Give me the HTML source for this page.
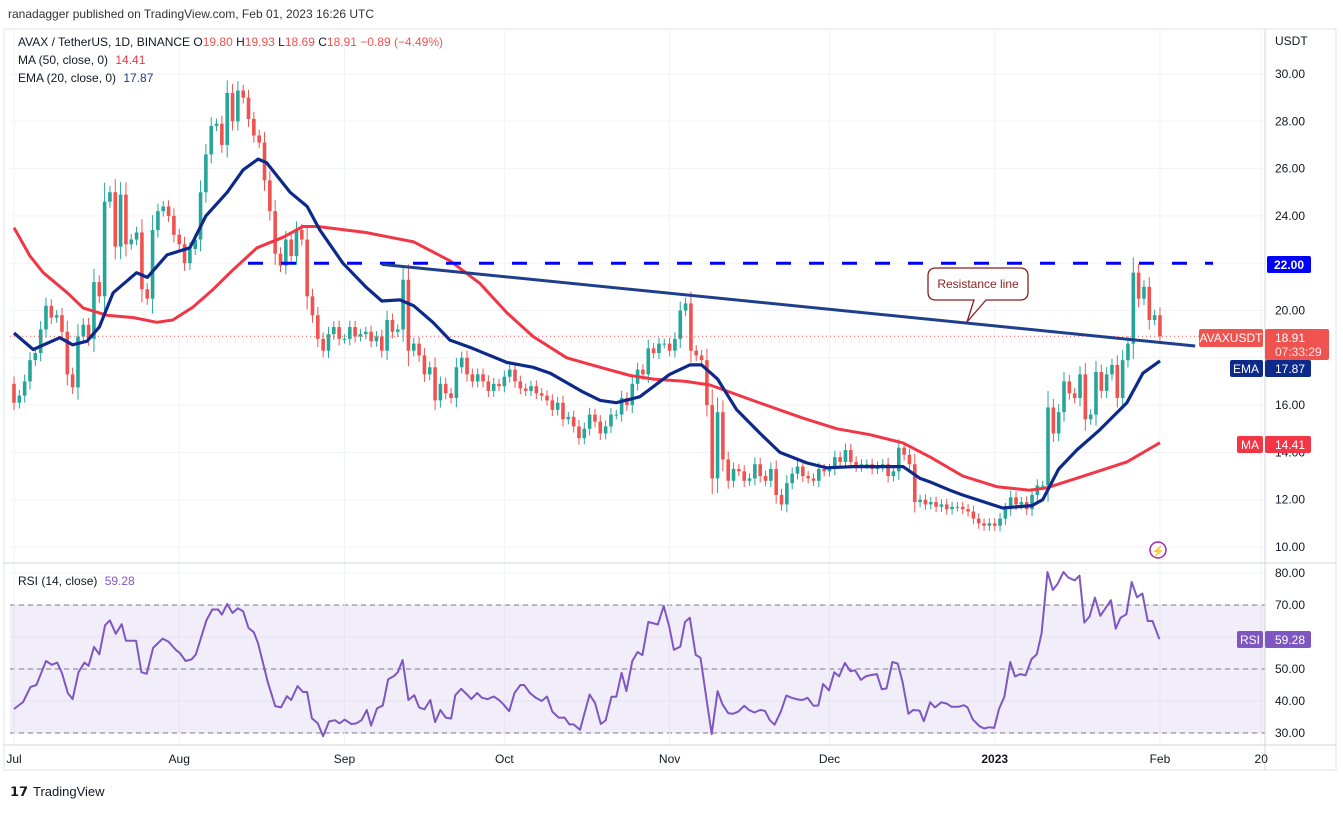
<!DOCTYPE html>
<html><head><meta charset="utf-8">
<style>
html,body{margin:0;padding:0;background:#fff;}
body{width:1343px;height:809px;overflow:hidden;font-family:"Liberation Sans",sans-serif;}
svg text{font-family:"Liberation Sans",sans-serif;}
</style></head>
<body>
<svg id="chart" width="1343" height="809" xmlns="http://www.w3.org/2000/svg">
<text x="8" y="18" font-size="12" fill="#333">ranadagger published on TradingView.com, Feb 01, 2023 16:26 UTC</text>
<rect x="4" y="29" width="1332" height="741" fill="none" stroke="#e0e3eb"/>
<g id="grid"></g>
<rect x="10" y="605" width="1255" height="128" fill="rgba(126,87,194,0.1)"/>
<g id="marks"></g>
<line x1="4" y1="563" x2="1336" y2="563" stroke="#d1d4dc"/>
<line x1="1265" y1="29" x2="1265" y2="770" stroke="#d1d4dc"/>
<line x1="4" y1="745" x2="1336" y2="745" stroke="#d1d4dc"/>
<g id="axes"></g>
<g font-size="12">
<text x="18" y="46" fill="#131722">AVAX / TetherUS, 1D, BINANCE  <tspan fill="#131722">O</tspan><tspan fill="#ef5350">19.80</tspan> <tspan fill="#131722">H</tspan><tspan fill="#ef5350">19.93</tspan> <tspan fill="#131722">L</tspan><tspan fill="#ef5350">18.69</tspan> <tspan fill="#131722">C</tspan><tspan fill="#ef5350">18.91 −0.89 (−4.49%)</tspan></text>
<text x="18" y="64" fill="#131722">MA (50, close, 0) <tspan fill="#f23645" dx="4">14.41</tspan></text>
<text x="18" y="82" fill="#131722">EMA (20, close, 0) <tspan fill="#1e3a8a" dx="4">17.87</tspan></text>
<text x="18" y="585" fill="#131722">RSI (14, close) <tspan fill="#7e57c2" dx="4">59.28</tspan></text>
</g>
<g>
<path d="M936,268 H1020 Q1028,268 1028,276 V292 Q1028,300 1020,300 H986 L967,322 L974,300 H936 Q928,300 928,292 V276 Q928,268 936,268 Z" fill="#fff" stroke="#8b1e1e" stroke-width="1.3"/>
<text x="978" y="288" font-size="12" fill="#8b1e1e" text-anchor="middle">Resistance line</text>
</g>
<g font-size="12">
<rect x="1267" y="256" width="44" height="17" rx="2" fill="#0000ff"/><text x="1289" y="269" fill="#fff" text-anchor="middle" font-weight="bold">22.00</text>
<rect x="1199" y="329" width="64" height="18" rx="2" fill="#ef5350"/><text x="1231" y="342" fill="#fff" text-anchor="middle">AVAXUSDT</text>
<rect x="1265" y="329" width="64" height="31" rx="2" fill="#ef5350"/><text x="1275" y="342" fill="#fff">18.91</text><text x="1275" y="356" fill="#fff" fill-opacity="0.85">07:33:29</text>
<rect x="1230" y="360" width="33" height="17" rx="2" fill="#0d2a8a"/><text x="1246" y="373" fill="#fff" text-anchor="middle">EMA</text>
<rect x="1265" y="360" width="46" height="17" rx="2" fill="#0d2a8a"/><text x="1275" y="373" fill="#fff">17.87</text>
<rect x="1237" y="436" width="26" height="17" rx="2" fill="#f23645"/><text x="1250" y="449" fill="#fff" text-anchor="middle">MA</text>
<rect x="1265" y="436" width="46" height="17" rx="2" fill="#f23645"/><text x="1275" y="449" fill="#fff">14.41</text>
<rect x="1237" y="631" width="26" height="17" rx="2" fill="#7e57c2"/><text x="1250" y="644" fill="#fff" text-anchor="middle">RSI</text>
<rect x="1265" y="631" width="46" height="17" rx="2" fill="#7e57c2"/><text x="1275" y="644" fill="#fff">59.28</text>
</g>
<g><circle cx="1158" cy="550" r="8" fill="none" stroke="#9c27b0" stroke-width="1.5"/><text x="1158" y="555" font-size="11" fill="#9c27b0" text-anchor="middle">⚡</text></g>
<g><text x="10" y="796" font-size="13" fill="#131722" font-weight="bold">𝟭𝟳</text><text x="33" y="796" font-size="13" fill="#131722">TradingView</text></g>
</svg>
<script>
// ---- data ----
const closes = [16.1,16.4,17.0,17.9,18.2,19.2,20.2,19.7,19.8,19.1,17.3,16.75,18.9,19.4,18.8,21.2,20.6,24.6,25.0,22.7,24.9,22.8,23.0,23.3,20.9,20.5,23.4,24.2,24.4,24.0,23.2,
22.8,22.0,22.6,23.0,25.0,26.6,27.8,27.9,27.0,29.2,28.0,29.3,29.0,28.1,27.4,27.1,25.5,24.2,22.4,21.9,23.0,22.3,23.4,23.0,20.6,19.8,18.8,18.3,19.0,19.3,18.8,
18.8,19.3,18.9,19.0,19.1,18.7,18.9,18.3,19.6,19.1,19.2,21.3,18.3,18.6,18.1,17.3,17.6,16.2,16.9,16.5,16.3,17.6,18.0,17.3,17.0,17.3,17.0,16.6,16.9,16.8,
17.2,17.5,17.0,16.7,16.6,16.8,16.5,16.4,16.2,15.8,16.1,15.4,15.5,15.1,14.6,15.0,15.6,15.3,14.8,15.1,15.6,15.6,16.3,16.0,16.9,17.5,17.3,18.4,18.2,18.6,
18.6,18.3,18.8,20.0,20.3,18.3,18.1,17.9,16.0,12.9,15.7,13.7,12.8,13.3,13.2,12.8,12.9,13.5,13.0,12.8,13.3,12.2,11.8,12.7,13.1,13.4,13.0,12.9,12.8,13.3,13.2,
13.3,13.8,13.6,14.1,13.6,13.4,13.5,13.5,13.3,13.4,13.5,13.0,13.2,14.2,13.9,13.5,11.9,12.0,11.8,11.9,11.7,11.8,11.6,11.7,11.7,11.6,11.5,11.2,11.0,10.9,11.0,
10.9,11.2,11.6,12.1,11.8,11.9,11.6,12.2,12.6,12.6,15.9,14.8,15.7,17.0,16.5,16.3,17.3,15.4,15.6,17.4,16.6,17.3,17.7,16.3,17.9,18.6,21.6,20.5,21.0,19.6,19.8,
18.91];
const firstOpen = 16.9;
const maDays = [0,3,5.5,10,13,17.4,22.4,26.8,29.8,33.6,37.4,41,45.6,50.5,54.2,57,66,75,81.8,87.4,92.5,97.4,103.7,110,115.6,120,126,130.6,138.6,148,154.4,160.6,166.8,171.9,178,184.4,190.6,193.7,200,208.8,215];
const maVals = [23.5,22.3,21.6,20.75,20.1,19.8,19.7,19.5,19.6,20.15,20.9,21.7,22.65,23.1,23.55,23.55,23.3,22.9,22.1,21.15,19.9,18.9,18.0,17.6,17.25,17.1,17.0,16.85,16.2,15.45,15.0,14.75,14.4,13.8,13.0,12.55,12.4,12.5,12.95,13.6,14.41];
const emaDays = [0,3.6,8.6,11,13.7,16,18.6,23,25,28.7,33,36,40,43,45.8,47.4,51.8,55,57.4,61.7,66,69,72.4,75,78.6,81.8,86,92.5,97.4,100.6,106.8,110,113,117.4,123,126.8,129,132,135.6,140,143.7,148.8,152.5,157.4,163.8,166.8,170,171.9,175.6,178,185.5,191,193,196,199.4,203.7,208.8,211.8,215];
const emaVals = [19.05,18.35,18.85,18.55,18.7,19.3,20.75,21.6,21.4,22.35,22.65,24.0,25.0,25.95,26.4,26.25,25.0,24.4,23.4,22.0,21.0,20.4,20.45,20.2,19.5,18.75,18.4,17.8,17.6,17.35,16.55,16.2,16.1,16.35,17.3,17.7,17.7,17.1,15.8,14.8,14.0,13.55,13.35,13.4,13.4,13.4,12.9,12.75,12.4,12.2,11.65,11.75,12.0,13.3,14.1,14.95,16.1,17.35,17.87];
const rsiDays = [0,1.7,3.1,4.2,6,7.1,8.1,9,10.1,11,12.1,13.2,14,15,16,17.1,18,19.1,20.2,21,22.9,23.9,24.9,26.1,27.9,29,30.4,31.1,32.2,33.3,34.1,36.1,37.2,38.3,39,40,41,42,43,44,45,45.8,47.6,49,50.1,51.2,52,53.2,54.2,55,55.9,57,58,59.1,60.2,61.1,62,63.3,64.2,65.2,66.2,67,68.1,69.2,70.2,71.3,72,72.9,74,75.1,76,77,78.1,79,80,81,82,82.8,83.9,85,85.8,86.9,87.8,88.9,90,91,91.8,92.9,93.9,95,95.7,96.8,97.9,99,100,101,102.2,103.3,104.2,105,106.2,108,109,110.1,111,112.1,113,114,114.9,116,117,117.9,119,120.8,121.9,122.9,123.8,125,125.9,126.8,127.9,128.8,130,130.9,132,132.9,134,134.9,135.9,137,137.9,138.9,140,140.9,141.8,142.7,143.9,144.9,145.9,147,147.9,148.9,150,150.9,151.8,152.9,153.9,154.8,155.9,156.9,157.8,158.9,159.8,160.7,161.9,162.8,163.7,164.8,165.8,166.7,167.8,168.7,169.9,170.7,171.9,172.8,174,175,175.9,177.2,178.2,178.9,179.9,181.1,182,183,183.9,184.8,185.8,186.9,187.8,188.8,189.8,190.9,191.9,192.8,193.9,194.9,195.8,196.9,197.8,199,199.9,200.8,201.8,202.8,203.8,205.8,206.7,207.6,208.7,209.7,210.7,211.7,212.7,213.6,214.9];
const rsiVals = [37.5,39.7,44.4,45,52.5,51.3,52,48.7,42.5,40.6,49,52,51,56.9,54.6,63.7,65.2,61,64,58.8,58.8,49,48.5,56.6,59.5,58.5,55.9,55,52.5,53,54.5,65.2,68.6,68.6,67,70.3,67.5,69,68,62.8,61.5,58,46,38.4,38,41.5,40.3,44.7,42.8,42.8,34.6,33,29,33.6,34,33,34.2,32.8,33,34,37.2,32.3,37.7,38.6,46.8,47.8,49,52.8,40.3,41.8,38,37.4,40.3,33.4,37.2,34.8,34.5,41.8,43.8,42,40.6,42.5,41,40.6,41.4,40.3,39,36.8,42.5,45,45,42.5,41,40,41.4,36.7,34.8,34.8,32.7,32.7,31,42,39.4,32.8,33.9,41.3,41.3,48.8,43.1,52.5,55.3,54.3,64.7,63.9,69.7,63.4,56,57,64.7,66,54.4,53.5,39.7,29.7,43.1,39,36.2,36,36.7,38.5,37.2,36.4,37.2,36.9,34,32.6,36.8,41.7,41,40.5,40.3,41,38.5,38.6,45.3,43.3,49,47.7,51.9,49.3,49.6,46.6,47.7,48.1,48.4,43.7,43.9,52.2,51.7,46,36,37.2,37,33.7,39.6,38,39.6,39.2,38.2,38.2,38.7,38,34.2,32.2,31.4,31.8,31.6,37.5,41.3,52.2,47.7,48.4,48,53.1,54.6,61.2,80.3,74.7,76.6,80.3,78.6,77.7,79.2,64.5,66.4,72.3,66.6,71.5,62.6,66,67.1,77.2,72.4,73.6,65,65,59.3];
const priceTicks = [30,28,26,24,22,20,18,16,14,12,10];
const rsiTicks = [80,70,60,50,40,30];
const monthLabels = ["Jul","Aug","Sep","Oct","Nov","Dec","2023","Feb","20"];
const monthDays = [0,31,62,92,123,153,184,215,234];
const resistDays = [69,221.6];
const resistVals = [21.95,18.5];
const hLevel = 22;

// ---- scales ----
const NS='http://www.w3.org/2000/svg';
const X = d => 14 + d*5.33;
const Y = p => 74 + (30-p)*23.65;
const R = r => 605 + (70-r)*3.2;
const mk = (tag, attrs, parent) => { const e=document.createElementNS(NS,tag); for(const k in attrs) e.setAttribute(k,attrs[k]); parent.appendChild(e); return e; };
const grid=document.getElementById('grid'), marks=document.getElementById('marks'), axes=document.getElementById('axes');

priceTicks.forEach(p=>{
  const l=mk('line',{x1:10,x2:1265,y1:Y(p),y2:Y(p),stroke:'#f0f3fa'},grid);
  
  
  const t=mk('text',{x:1275,y:Y(p)+4,'font-size':12,fill:'#131722'},axes);
  t.textContent=p.toFixed(2);
  
  
});
const u=mk('text',{x:1275,y:45,'font-size':12,fill:'#131722'},axes); u.textContent='USDT';


rsiTicks.forEach(r=>{
  const l=mk('line',{x1:10,x2:1265,y1:R(r),y2:R(r),stroke:'#f0f3fa'},grid);
  
  
  const t=mk('text',{x:1275,y:R(r)+4,'font-size':12,fill:'#131722'},axes);
  t.textContent=r.toFixed(2);
  
  
});
[70,50,30].forEach(r=>{
  const l=mk('line',{x1:10,x2:1265,y1:R(r),y2:R(r),stroke:'#787b86','stroke-dasharray':'5,4','stroke-width':1},grid);
  
  
});
monthLabels.forEach((m,i)=>{
  const x=X(monthDays[i]);
  const l=mk('line',{x1:x,x2:x,y1:30,y2:745,stroke:'#f0f3fa'},grid);
  
  
  const t=mk('text',{x:x,y:763,'font-size':12,fill:'#131722','text-anchor':'middle','font-weight':m==='2023'?'bold':'normal'},axes);
  t.textContent=m;
  
  
});

// dotted last price line
const lp=mk('line',{x1:10,x2:1265,y1:Y(closes[closes.length-1]),y2:Y(closes[closes.length-1]),stroke:'#ef5350','stroke-dasharray':'1,3'},marks);



// candles
closes.forEach((c,i)=>{
  const o = i===0 ? firstOpen : closes[i-1];
  const up = c>=o;
  const col = up ? '#26a69a' : '#ef5350';
  const body = Math.abs(c-o);
  const hi = Math.max(o,c) + 0.2 + body*0.15;
  const lo = Math.min(o,c) - 0.2 - body*0.15;
  const g=mk('g',{},marks);
  
  
  const x=X(i);
  mk('line',{x1:x,x2:x,y1:Y(hi),y2:Y(lo),stroke:col,'stroke-width':1},g);
  const yt=Y(Math.max(o,c)), yb=Y(Math.min(o,c));
  mk('rect',{x:x-1.8,y:yt,width:3.6,height:Math.max(1,yb-yt),fill:col},g);
});

function poly(days, vals, yf, color, w, name){
  const pts=days.map((d,i)=>X(d).toFixed(1)+','+yf(vals[i]).toFixed(1)).join(' ');
  const p=mk('polyline',{points:pts,fill:'none',stroke:color,'stroke-width':w,'stroke-linejoin':'round'},marks);
  
  
}
poly(maDays,maVals,Y,'#f23645',3,'ma50-line');
poly(emaDays,emaVals,Y,'#0d2a8a',3.2,'ema20-line');
poly(rsiDays,rsiVals,R,'#7e57c2',2,'rsi-line');

// horizontal 22 level
const hl=mk('line',{x1:248,x2:1213,y1:Y(hLevel),y2:Y(hLevel),stroke:'#0000ff','stroke-width':3,'stroke-dasharray':'15,18'},marks);


// resistance trendline
const rl=mk('line',{x1:X(resistDays[0]),x2:X(resistDays[1]),y1:Y(resistVals[0]),y2:Y(resistVals[1]),stroke:'#1e3f8c','stroke-width':3},marks);


</script>
</body></html>
